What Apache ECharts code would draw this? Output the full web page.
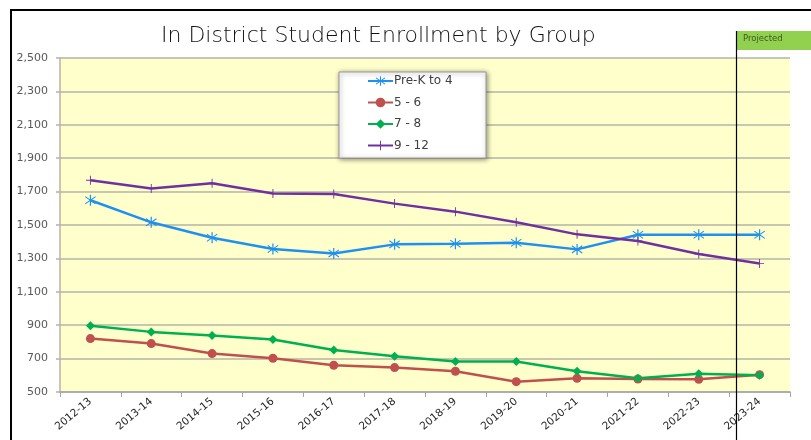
<!DOCTYPE html>
<html><head><meta charset="utf-8">
<script src="https://cdn.jsdelivr.net/npm/echarts@6/dist/echarts.min.js"></script>
<style>html,body{margin:0;padding:0;background:#fff}#c{width:811px;height:440px}</style>
</head><body><div id="c"></div>
<script>
const categories = ['2012-13','2013-14','2014-15','2015-16','2016-17','2017-18','2018-19','2019-20','2020-21','2021-22','2022-23','2023-24'];
const preK4   = [1648,1516,1424,1356,1330,1384,1388,1394,1354,1442,1442,1442];
const g5to6   = [820,790,730,702,660,646,624,562,582,578,576,604];
const g7to8   = [896,860,838,814,752,714,682,682,624,582,610,600];
const g9to12  = [1768,1718,1750,1688,1686,1628,1580,1516,1444,1404,1326,1270];
const seriesNames = ['Pre-K to 4','5 - 6','7 - 8','9 - 12'];
const yTicks = {min:500, max:2500, interval:200};

const FONT = 'DejaVu Sans';
const asterisk = 'path://M-0.9,-10L0.9,-10L0.9,10L-0.9,10Z M-8.2,-5.8L-7.3,-7.3L8.2,5.8L7.3,7.3Z M7.3,-7.3L8.2,-5.8L-7.3,7.3L-8.2,5.8Z';
const plus = 'path://M-1,-10L1,-10L1,-1L10,-1L10,1L1,1L1,10L-1,10Z M-10,-1L-1,-1L-1,1L-10,1Z';

const chart = echarts.init(document.getElementById('c'), null, {renderer:'canvas'});
function mk(name, data, color, symbol, size){
  return {name, type:'line', data, symbol, symbolSize:size, showSymbol:true,
    lineStyle:{color, width:2.5}, itemStyle:{color, borderWidth:0}, animation:false, z:3};
}
chart.setOption({
  animation:false,
  title:{text:'In District Student Enrollment by Group', left:156, top:20,
    textStyle:{fontFamily:FONT, fontSize:22, fontWeight:200, color:'#111111'}},
  grid:{left:60, right:21, top:58, bottom:48, show:true, backgroundColor:'#FFFFCC', borderWidth:0},
  legend:{orient:'vertical', left:367, top:75, itemWidth:25, itemHeight:12, itemGap:9.5, padding:0,
    data:seriesNames, textStyle:{fontFamily:FONT, fontSize:12, color:'#404040', padding:[0,0,0,-4]}, z:5},
  xAxis:{type:'category', data:categories, boundaryGap:true,
    axisLine:{lineStyle:{color:'#A6A6A6', width:1.5}},
    axisTick:{show:true, length:5, lineStyle:{color:'#A6A6A6'}},
    axisLabel:{rotate:40, margin:8, fontFamily:FONT, fontSize:10.5, color:'#262626', interval:0}},
  yAxis:{type:'value', min:yTicks.min, max:yTicks.max, interval:yTicks.interval,
    axisLine:{show:true, lineStyle:{color:'#B4B4A8', width:1.5}},
    axisTick:{show:true, length:4, lineStyle:{color:'#B4B4A8', width:1.5}},
    splitLine:{lineStyle:{color:'#B4B4A8', width:1.5}},
    axisLabel:{margin:12, fontFamily:FONT, fontSize:11, color:'#595959',
      formatter:v=>v.toLocaleString('en-US')}},
  series:[
    mk(seriesNames[0], preK4, '#1E90F0', asterisk, 11),
    mk(seriesNames[1], g5to6, '#C0504D', 'circle', 9),
    mk(seriesNames[2], g7to8, '#00B050', 'diamond', 9),
    mk(seriesNames[3], g9to12, '#7030A0', plus, 9)
  ],
  graphic:[
    {type:'rect', z:1, shape:{x:11, y:10, width:830, height:460},
      style:{fill:null, stroke:'#000', lineWidth:2}},
    {type:'rect', z:2, shape:{x:339, y:72, width:147, height:86},
      style:{fill:'#FFFFFF', stroke:'#9A9A9A', lineWidth:1, shadowBlur:5, shadowColor:'rgba(0,0,0,0.45)', shadowOffsetX:1, shadowOffsetY:1}},
    {type:'rect', z:2, shape:{x:736, y:31, width:80, height:19}, style:{fill:'#92D050'}},
    {type:'text', z:3, style:{x:743, y:39, text:'Projected', fill:'#3E5A22', font:'8.5px "DejaVu Sans"', textVerticalAlign:'middle'}},
    {type:'line', z:4, shape:{x1:736.5, y1:31, x2:736.5, y2:440}, style:{stroke:'#000', lineWidth:1.2}}
  ]
});
</script></body></html>
